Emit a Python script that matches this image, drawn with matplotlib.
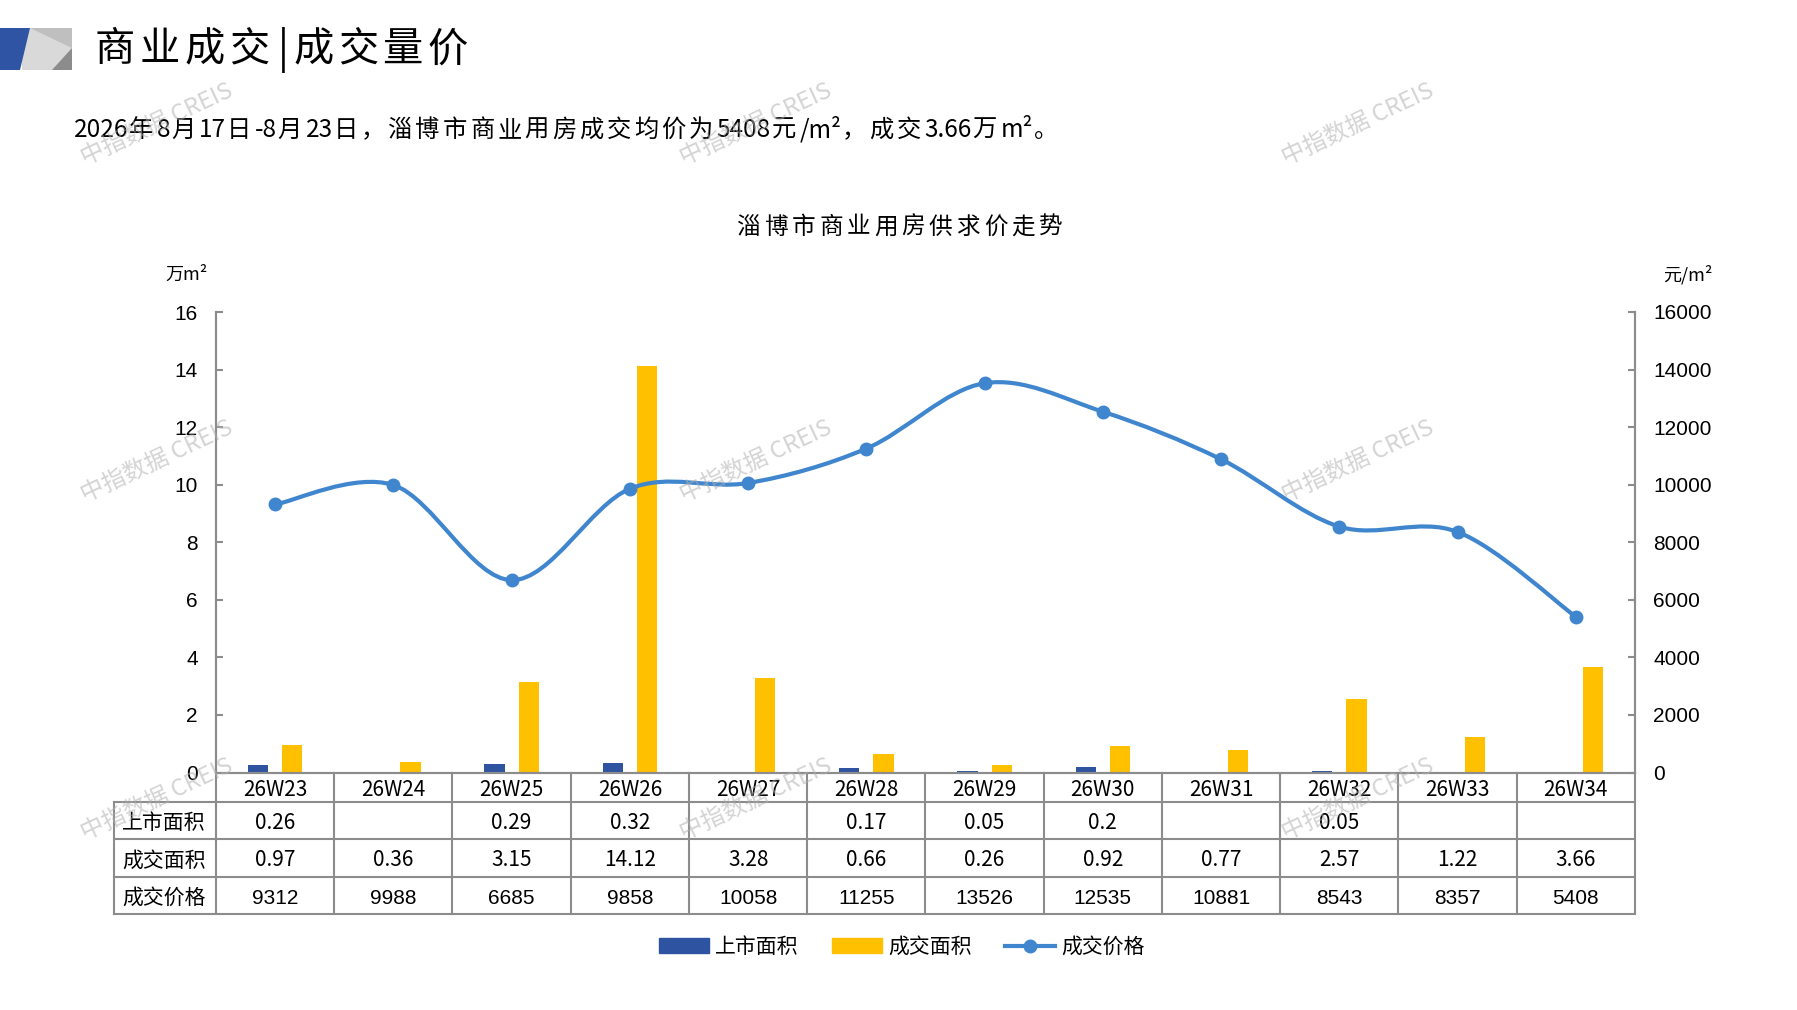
import re
import numpy as np
import matplotlib
matplotlib.use('Agg')
import matplotlib.pyplot as plt
from matplotlib.path import Path
from matplotlib.patches import PathPatch, Polygon, Patch
from matplotlib.lines import Line2D

# 数据
weeks = ['26W23', '26W24', '26W25', '26W26', '26W27', '26W28',
         '26W29', '26W30', '26W31', '26W32', '26W33', '26W34']
listed = [0.26, None, 0.29, 0.32, None, 0.17, 0.05, 0.2, None, 0.05, None, None]   # 上市面积 万m²
sold = [0.97, 0.36, 3.15, 14.12, 3.28, 0.66, 0.26, 0.92, 0.77, 2.57, 1.22, 3.66]    # 成交面积 万m²
price = [9312, 9988, 6685, 9858, 10058, 11255, 13526, 12535, 10881, 8543, 8357, 5408]  # 成交价格 元/m²
left_ticks = [0, 2, 4, 6, 8, 10, 12, 14, 16]
right_ticks = [0, 2000, 4000, 6000, 8000, 10000, 12000, 14000, 16000]
row_names = ['上市面积', '成交面积', '成交价格']

plt.rcParams['font.family'] = ['Noto Sans CJK SC', 'DejaVu Sans']

c_blue = '#2E54A1'
c_yellow = '#FFC000'
c_line = '#3F86CE'
c_grid = '#8C8C8C'
num_font = 'Liberation Sans'

W, H = 1797, 1010
fig = plt.figure(figsize=(W / 100, H / 100), dpi=100)
renderer = fig.canvas.get_renderer()


def fx(px):
    return px / W


def fy(py):
    return 1 - py / H


def spaced_text(x, y, s, size, extra, gap=0.03):
    # 中文逐字排 (全角宽度 + 字距), 西文整段排
    em = size * 100 / 72
    for r in re.findall(r'[\u2000-\uffff]|[^\u2000-\uffff]+', s):
        if ord(r[0]) >= 0x2000:
            fig.text(fx(x), fy(y), r, ha='left', va='center', fontsize=size)
            x += em + extra
        else:
            x += gap * em
            t = fig.text(fx(x), fy(y), r, ha='left', va='center', fontsize=size)
            x += t.get_window_extent(renderer).width + gap * em


# 主图区域(像素)
ax_l, ax_r, ax_t, ax_b = 216, 1635, 312, 772.5
ax = fig.add_axes([fx(ax_l), fy(ax_b), (ax_r - ax_l) / W, (ax_b - ax_t) / H])
ax2 = ax.twinx()

ind = np.arange(len(weeks))
lst = np.array([np.nan if v is None else v for v in listed])
m = ~np.isnan(lst)
width = 0.17
ax.bar(ind[m] - 0.145, lst[m], width, color=c_blue, zorder=2)
ax.bar(ind + 0.145, sold, width, color=c_yellow, zorder=2)


# 平滑曲线 (类似 Excel 平滑线)
def smooth_path(xs, ys, k=1 / 6):
    pts = np.column_stack([xs, ys]).astype(float)
    n = len(pts)
    verts = [pts[0]]
    codes = [Path.MOVETO]
    for i in range(n - 1):
        p0 = pts[i - 1] if i > 0 else pts[i]
        p1 = pts[i]
        p2 = pts[i + 1]
        p3 = pts[i + 2] if i + 2 < n else pts[i + 1]
        verts += [p1 + (p2 - p0) * k, p2 - (p3 - p1) * k, p2]
        codes += [Path.CURVE4] * 3
    return Path(verts, codes)


ax2.add_patch(PathPatch(smooth_path(ind, price), facecolor='none', edgecolor=c_line,
                        lw=3.0, capstyle='round', joinstyle='round', zorder=3))
ax2.plot(ind, price, 'o', color=c_line, markersize=9, zorder=4)

ax.set_xlim(-0.5, len(weeks) - 0.5)
ax.set_ylim(0, 16)
ax2.set_ylim(0, 16000)
ax.set_yticks(left_ticks)
ax2.set_yticks(right_ticks)
ax.set_xticks([])
for a in (ax, ax2):
    a.spines['top'].set_visible(False)
    for s in ('left', 'right', 'bottom'):
        a.spines[s].set_color(c_grid)
        a.spines[s].set_linewidth(1.5)
    a.tick_params(axis='y', direction='in', length=5, width=1.5, color=c_grid,
                  labelsize=15, pad=13)
for lab in ax.get_yticklabels() + ax2.get_yticklabels():
    lab.set_family(num_font)

# 单位
fig.text(fx(186), fy(275), '万m²', ha='center', va='center', fontsize=13)
fig.text(fx(1688), fy(275), '元/m²', ha='center', va='center', fontsize=13)

# 数据表
trans = ax.get_xaxis_transform()
ph = ax_b - ax_t
bounds = [772.5, 801.7, 839.3, 876.7, 914.3]
yf = [(ax_b - b) / ph for b in bounds]
x_lab = -0.5 - (ax_l - 114.3) / ((ax_r - ax_l) / len(weeks))
x_end = len(weeks) - 0.5
for y in yf[1:]:
    ax.plot([x_lab, x_end], [y, y], color=c_grid, lw=1.5, transform=trans, clip_on=False)
for k in range(len(weeks) + 1):
    ax.plot([k - 0.5, k - 0.5], [0, yf[-1]], color=c_grid, lw=1.5, transform=trans, clip_on=False)
ax.plot([x_lab, x_lab], [yf[1], yf[-1]], color=c_grid, lw=1.5, transform=trans, clip_on=False)

yc = [(ax_b - ((bounds[i] + bounds[i + 1]) / 2 + 2.5)) / ph for i in range(4)]
for i, w in enumerate(weeks):
    ax.text(i, yc[0], w, transform=trans, ha='center', va='center', fontsize=15)
    ax.text(i, yc[1], '' if listed[i] is None else str(listed[i]), transform=trans,
            ha='center', va='center', fontsize=15)
    ax.text(i, yc[2], str(sold[i]), transform=trans, ha='center', va='center', fontsize=15)
    ax.text(i, yc[3], str(price[i]), transform=trans, ha='center', va='center',
            fontsize=15, family=num_font)
x_name = -0.5 - (ax_l - 122) / ((ax_r - ax_l) / len(weeks))
for j, nm in enumerate(row_names):
    ax.text(x_name, yc[j + 1], nm, transform=trans, ha='left', va='center', fontsize=15)

# 图例
handles = [Patch(color=c_blue, label='上市面积'),
           Patch(color=c_yellow, label='成交面积'),
           Line2D([0], [0], color=c_line, lw=3, marker='o', markersize=9, label='成交价格')]
fig.legend(handles=handles, loc='center', bbox_to_anchor=(fx(902), fy(947)), ncol=3,
           frameon=False, fontsize=15, handlelength=2.4, handleheight=0.7,
           handletextpad=0.3, columnspacing=1.6)

# 标题
spaced_text(737, 227, '淄博市商业用房供求价走势', 17, 3.8)
spaced_text(95, 50, '商业成交|成交量价', 29, 4.5, gap=0.1)
spaced_text(73, 130, '2026年8月17日-8月23日，淄博市商业用房成交均价为5408元/m²，成交3.66万m²。', 17.5, 3.0)


# 左上角色块
def poly(pts, color):
    fig.add_artist(Polygon([(fx(x), fy(y)) for x, y in pts], closed=True,
                           transform=fig.transFigure, color=color, lw=0))


poly([(22, 28), (72, 28), (72, 70), (22, 70)], '#D9D9D9')
poly([(30, 28), (72, 28), (72, 48)], '#BFBFBF')
poly([(52, 70), (72, 48), (72, 70)], '#8C8C8C')
poly([(0, 28), (30, 28), (20, 70), (0, 70)], '#2F54A3')

# 水印
for wx in (157, 756, 1358):
    for wy in (124, 461, 799):
        fig.text(fx(wx), fy(wy), '中指数据 CREIS', ha='center', va='center', rotation=25,
                 fontsize=17, color='#B0B0B0', alpha=0.55, zorder=10)

plt.savefig('out.png', dpi=100)
